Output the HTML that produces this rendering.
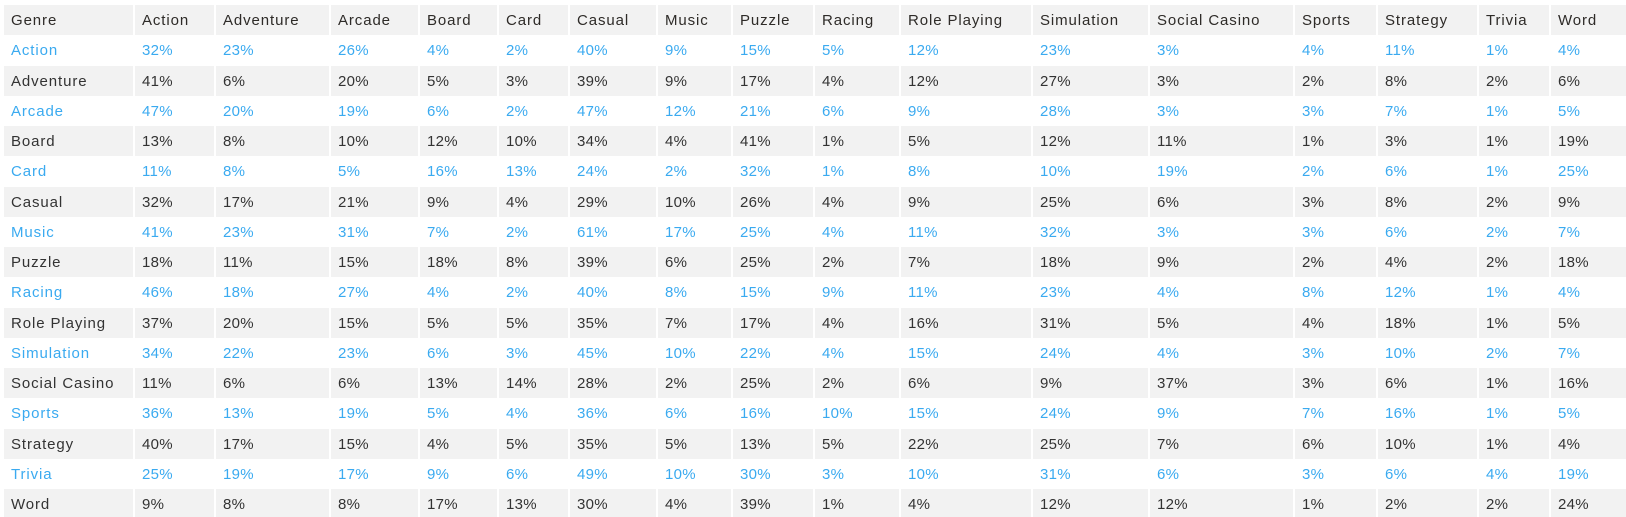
<!DOCTYPE html>
<html><head><meta charset="utf-8"><style>
html,body{margin:0;padding:0;background:#fff;width:1626px;height:517px;overflow:hidden;}
body{position:relative;font-family:"Liberation Sans",sans-serif;font-size:15px;}
.r{position:absolute;left:4px;width:1622px;height:30px;display:flex;gap:2px;}
.r div{height:30px;line-height:31px;padding-left:7px;box-sizing:border-box;white-space:nowrap;letter-spacing:0.3px;flex:none;}
.r div:first-child,.h div{letter-spacing:0.9px;}
.g div{background:#f2f2f2;color:#333;}
.b div{color:#3aaaf0;}
.h div{color:#2e2b28;}
.r div:nth-child(1){width:129px}.r div:nth-child(2){width:79px}.r div:nth-child(3){width:113px}
.r div:nth-child(4){width:87px}.r div:nth-child(5){width:77px}.r div:nth-child(6){width:69px}
.r div:nth-child(7){width:86px}.r div:nth-child(8){width:73px}.r div:nth-child(9){width:80px}
.r div:nth-child(10){width:84px}.r div:nth-child(11){width:130px}.r div:nth-child(12){width:115px}
.r div:nth-child(13){width:143px}.r div:nth-child(14){width:81px}.r div:nth-child(15){width:99px}
.r div:nth-child(16){width:70px}.r div:nth-child(17){width:75px}
</style></head><body>
<div class="r g h" style="top:5px"><div>Genre</div><div>Action</div><div>Adventure</div><div>Arcade</div><div>Board</div><div>Card</div><div>Casual</div><div>Music</div><div>Puzzle</div><div>Racing</div><div>Role Playing</div><div>Simulation</div><div>Social Casino</div><div>Sports</div><div>Strategy</div><div>Trivia</div><div>Word</div></div>
<div class="r b" style="top:35.25px"><div>Action</div><div>32%</div><div>23%</div><div>26%</div><div>4%</div><div>2%</div><div>40%</div><div>9%</div><div>15%</div><div>5%</div><div>12%</div><div>23%</div><div>3%</div><div>4%</div><div>11%</div><div>1%</div><div>4%</div></div>
<div class="r g" style="top:65.5px"><div>Adventure</div><div>41%</div><div>6%</div><div>20%</div><div>5%</div><div>3%</div><div>39%</div><div>9%</div><div>17%</div><div>4%</div><div>12%</div><div>27%</div><div>3%</div><div>2%</div><div>8%</div><div>2%</div><div>6%</div></div>
<div class="r b" style="top:95.75px"><div>Arcade</div><div>47%</div><div>20%</div><div>19%</div><div>6%</div><div>2%</div><div>47%</div><div>12%</div><div>21%</div><div>6%</div><div>9%</div><div>28%</div><div>3%</div><div>3%</div><div>7%</div><div>1%</div><div>5%</div></div>
<div class="r g" style="top:126px"><div>Board</div><div>13%</div><div>8%</div><div>10%</div><div>12%</div><div>10%</div><div>34%</div><div>4%</div><div>41%</div><div>1%</div><div>5%</div><div>12%</div><div>11%</div><div>1%</div><div>3%</div><div>1%</div><div>19%</div></div>
<div class="r b" style="top:156.25px"><div>Card</div><div>11%</div><div>8%</div><div>5%</div><div>16%</div><div>13%</div><div>24%</div><div>2%</div><div>32%</div><div>1%</div><div>8%</div><div>10%</div><div>19%</div><div>2%</div><div>6%</div><div>1%</div><div>25%</div></div>
<div class="r g" style="top:186.5px"><div>Casual</div><div>32%</div><div>17%</div><div>21%</div><div>9%</div><div>4%</div><div>29%</div><div>10%</div><div>26%</div><div>4%</div><div>9%</div><div>25%</div><div>6%</div><div>3%</div><div>8%</div><div>2%</div><div>9%</div></div>
<div class="r b" style="top:216.75px"><div>Music</div><div>41%</div><div>23%</div><div>31%</div><div>7%</div><div>2%</div><div>61%</div><div>17%</div><div>25%</div><div>4%</div><div>11%</div><div>32%</div><div>3%</div><div>3%</div><div>6%</div><div>2%</div><div>7%</div></div>
<div class="r g" style="top:247px"><div>Puzzle</div><div>18%</div><div>11%</div><div>15%</div><div>18%</div><div>8%</div><div>39%</div><div>6%</div><div>25%</div><div>2%</div><div>7%</div><div>18%</div><div>9%</div><div>2%</div><div>4%</div><div>2%</div><div>18%</div></div>
<div class="r b" style="top:277.25px"><div>Racing</div><div>46%</div><div>18%</div><div>27%</div><div>4%</div><div>2%</div><div>40%</div><div>8%</div><div>15%</div><div>9%</div><div>11%</div><div>23%</div><div>4%</div><div>8%</div><div>12%</div><div>1%</div><div>4%</div></div>
<div class="r g" style="top:307.5px"><div>Role Playing</div><div>37%</div><div>20%</div><div>15%</div><div>5%</div><div>5%</div><div>35%</div><div>7%</div><div>17%</div><div>4%</div><div>16%</div><div>31%</div><div>5%</div><div>4%</div><div>18%</div><div>1%</div><div>5%</div></div>
<div class="r b" style="top:337.75px"><div>Simulation</div><div>34%</div><div>22%</div><div>23%</div><div>6%</div><div>3%</div><div>45%</div><div>10%</div><div>22%</div><div>4%</div><div>15%</div><div>24%</div><div>4%</div><div>3%</div><div>10%</div><div>2%</div><div>7%</div></div>
<div class="r g" style="top:368px"><div>Social Casino</div><div>11%</div><div>6%</div><div>6%</div><div>13%</div><div>14%</div><div>28%</div><div>2%</div><div>25%</div><div>2%</div><div>6%</div><div>9%</div><div>37%</div><div>3%</div><div>6%</div><div>1%</div><div>16%</div></div>
<div class="r b" style="top:398.25px"><div>Sports</div><div>36%</div><div>13%</div><div>19%</div><div>5%</div><div>4%</div><div>36%</div><div>6%</div><div>16%</div><div>10%</div><div>15%</div><div>24%</div><div>9%</div><div>7%</div><div>16%</div><div>1%</div><div>5%</div></div>
<div class="r g" style="top:428.5px"><div>Strategy</div><div>40%</div><div>17%</div><div>15%</div><div>4%</div><div>5%</div><div>35%</div><div>5%</div><div>13%</div><div>5%</div><div>22%</div><div>25%</div><div>7%</div><div>6%</div><div>10%</div><div>1%</div><div>4%</div></div>
<div class="r b" style="top:458.75px"><div>Trivia</div><div>25%</div><div>19%</div><div>17%</div><div>9%</div><div>6%</div><div>49%</div><div>10%</div><div>30%</div><div>3%</div><div>10%</div><div>31%</div><div>6%</div><div>3%</div><div>6%</div><div>4%</div><div>19%</div></div>
<div class="r g" style="top:489px"><div>Word</div><div>9%</div><div>8%</div><div>8%</div><div>17%</div><div>13%</div><div>30%</div><div>4%</div><div>39%</div><div>1%</div><div>4%</div><div>12%</div><div>12%</div><div>1%</div><div>2%</div><div>2%</div><div>24%</div></div>
</body></html>
